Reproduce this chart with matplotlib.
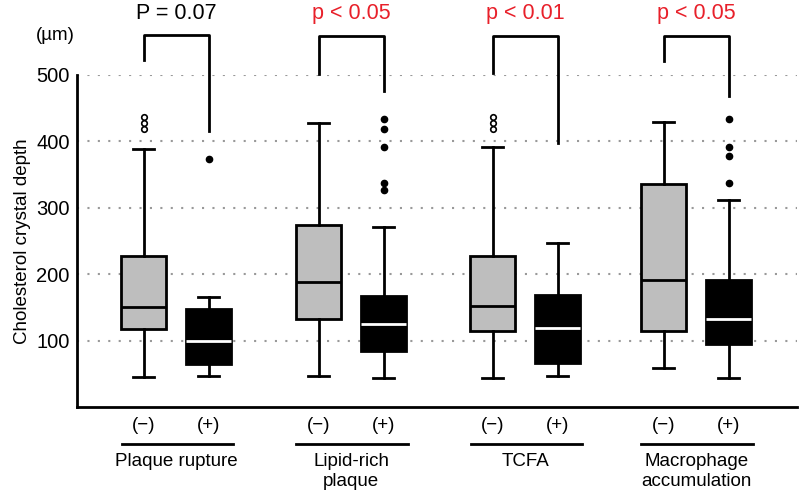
import matplotlib
matplotlib.use("Agg")
import matplotlib.pyplot as plt
from matplotlib import transforms

plt.rcParams['font.family'] = ['Liberation Sans', 'DejaVu Sans']

groups = ["Plaque rupture", "Lipid-rich\nplaque", "TCFA", "Macrophage\naccumulation"]
p_labels = ["P = 0.07", "p < 0.05", "p < 0.01", "p < 0.05"]
p_colors = ["black", "#e8202a", "#e8202a", "#e8202a"]

# box stats per group: (-) and (+)
neg_whislo = [45, 46, 44, 58]
neg_q1 = [118, 133, 115, 115]
neg_med = [150, 188, 152, 192]
neg_q3 = [227, 274, 227, 336]
neg_whishi = [389, 427, 392, 429]
neg_fliers = [[437, 428, 419], [], [436, 428, 419], []]

pos_whislo = [47, 43, 47, 43]
pos_q1 = [65, 84, 66, 95]
pos_med = [99, 125, 119, 133]
pos_q3 = [147, 167, 169, 192]
pos_whishi = [166, 271, 247, 312]
pos_fliers = [[374], [433, 418, 391, 337, 327], [], [434, 391, 378, 337]]

# significance brackets
br_top = [560, 559, 559, 559]
br_left = [522, 502, 503, 521]
br_right = [415, 476, 397, 469]

neg_pos = [0, 2.69, 5.37, 8.0]
pos_pos = [x + 1 for x in neg_pos]

fig = plt.figure(figsize=(8, 5), dpi=100)
ax = fig.add_axes([0.096, 0.186, 0.9, 0.664])


def make_stats(wl, q1, med, q3, wh, fl):
    return [dict(whislo=a, q1=b, med=c, q3=d, whishi=e, fliers=f)
            for a, b, c, d, e, f in zip(wl, q1, med, q3, wh, fl)]


neg_stats = make_stats(neg_whislo, neg_q1, neg_med, neg_q3, neg_whishi, neg_fliers)
pos_stats = make_stats(pos_whislo, pos_q1, pos_med, pos_q3, pos_whishi, pos_fliers)

lw = 2
ax.bxp(neg_stats, positions=neg_pos, widths=0.7, patch_artist=True,
       boxprops=dict(facecolor="#bebebe", edgecolor="black", linewidth=lw),
       medianprops=dict(color="black", linewidth=lw),
       whiskerprops=dict(color="black", linewidth=lw),
       capprops=dict(color="black", linewidth=lw),
       capwidths=0.32,
       flierprops=dict(marker="o", markersize=4, markerfacecolor="white",
                       markeredgecolor="black", markeredgewidth=1.2))
ax.bxp(pos_stats, positions=pos_pos, widths=0.7, patch_artist=True,
       boxprops=dict(facecolor="black", edgecolor="black", linewidth=lw),
       medianprops=dict(color="white", linewidth=lw),
       whiskerprops=dict(color="black", linewidth=lw),
       capprops=dict(color="black", linewidth=lw),
       capwidths=0.32,
       flierprops=dict(marker="o", markersize=4.5, markerfacecolor="black",
                       markeredgecolor="black"))

ax.set_xlim(-1.03, 10.05)
ax.set_ylim(0, 500)
ax.set_yticks([100, 200, 300, 400, 500])
ax.set_xticks([])
ax.tick_params(axis="y", length=0, labelsize=14.5, pad=5)
ax.yaxis.grid(True, linestyle=(0, (1, 4)), color="#999999", linewidth=1.5)
ax.set_axisbelow(True)
for s in ["top", "right"]:
    ax.spines[s].set_visible(False)
for s in ["left", "bottom"]:
    ax.spines[s].set_linewidth(2)
ax.set_ylabel("Cholesterol crystal depth", fontsize=13.5, labelpad=4)
fig.text(0.069, 0.93, "(µm)", fontsize=13.5, ha="center", va="center")

# brackets and p-values
for i in range(len(groups)):
    xl, xr = neg_pos[i], pos_pos[i]
    ax.plot([xl, xl, xr, xr], [br_left[i], br_top[i], br_top[i], br_right[i]],
            color="black", linewidth=2, clip_on=False)
    ax.text((xl + xr) / 2, 592, p_labels[i], color=p_colors[i], fontsize=15.5,
            ha="center", va="center", clip_on=False)

# category labels under the axis
trans = transforms.blended_transform_factory(ax.transData, fig.transFigure)
for i in range(len(groups)):
    xl, xr = neg_pos[i], pos_pos[i]
    ax.text(xl, 0.148, "(−)", transform=trans, ha="center", va="center", fontsize=13.5)
    ax.text(xr, 0.148, "(+)", transform=trans, ha="center", va="center", fontsize=13.5)
    ax.plot([xl - 0.34, xr + 0.37], [0.112, 0.112], transform=trans,
            color="black", linewidth=2, clip_on=False)
    ax.text((xl + xr) / 2, 0.093, groups[i], transform=trans, ha="center",
            va="top", fontsize=13.5, linespacing=1.2)

fig.savefig("out.png", dpi=100)
